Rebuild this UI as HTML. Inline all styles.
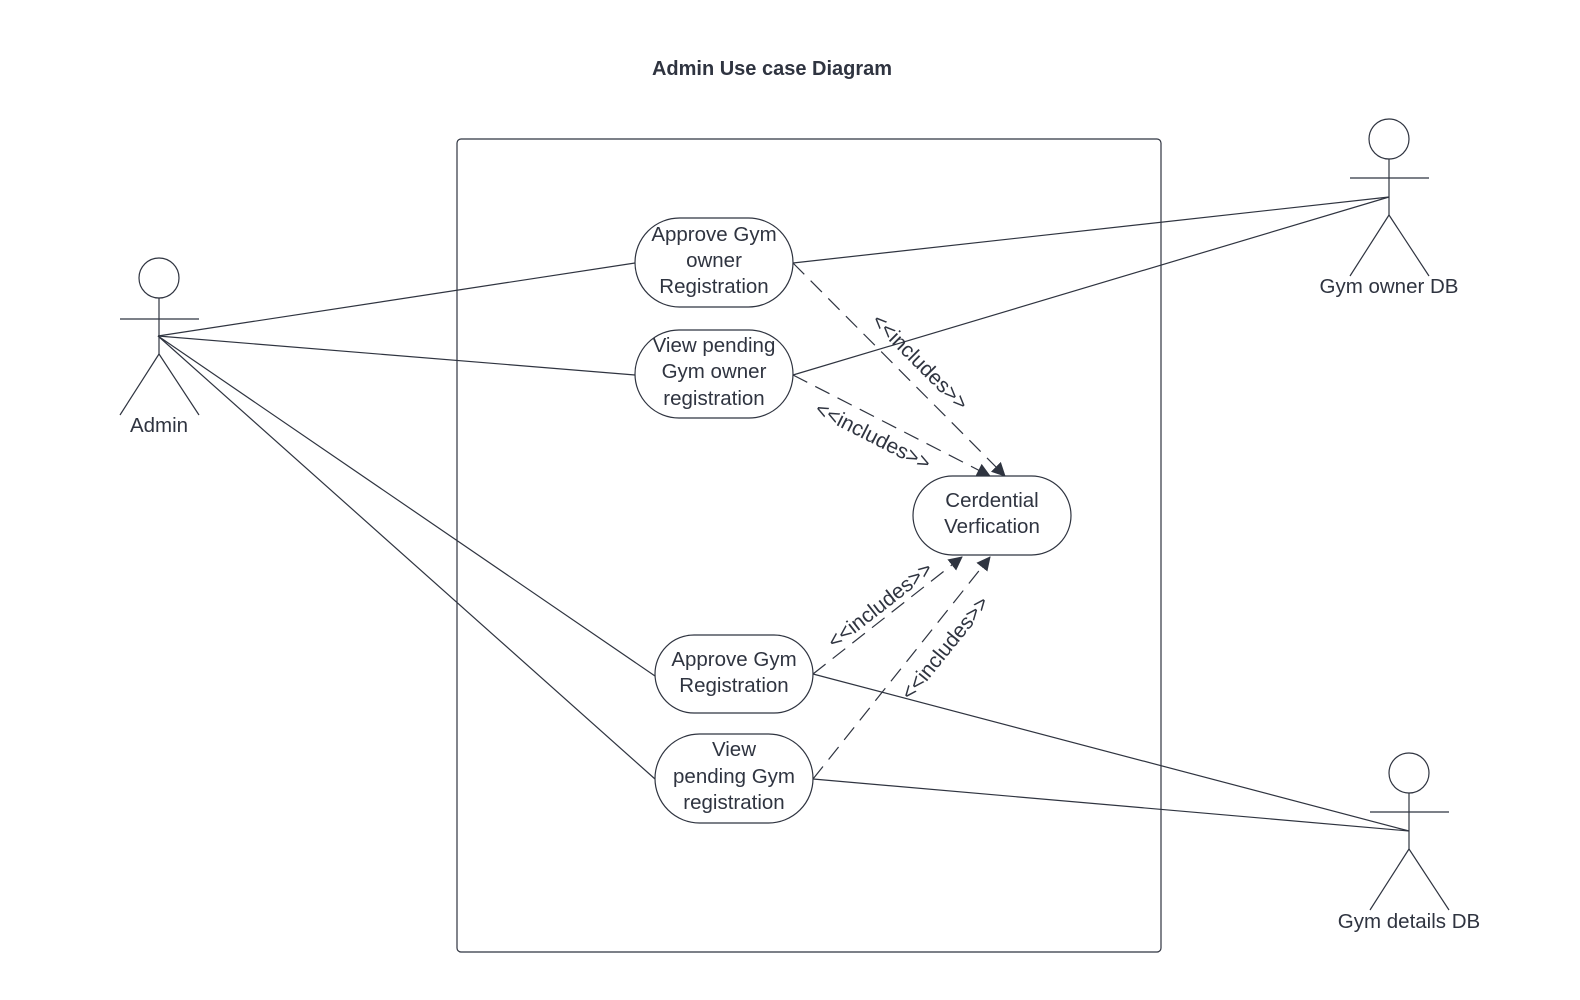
<!DOCTYPE html>
<html><head><meta charset="utf-8"><style>
html,body{margin:0;padding:0;background:#fff;}
svg{display:block;}
text{font-family:"Liberation Sans",sans-serif;fill:#2f3440;}
</style></head><body>
<svg width="1580" height="1000" viewBox="0 0 1580 1000" xmlns="http://www.w3.org/2000/svg">
<defs>
<marker id="ah" markerWidth="14" markerHeight="14" refX="13" refY="7" orient="auto" markerUnits="userSpaceOnUse">
<path d="M0,0 L14,7 L0,14 z" fill="#2f3440"/>
</marker>
</defs>
<text x="772" y="75" text-anchor="middle" font-size="20" font-weight="bold">Admin Use case Diagram</text>
<rect x="457" y="139" width="704" height="813" rx="4" fill="none" stroke="#2f3440" stroke-width="1.2"/>

<g stroke="#2f3440" stroke-width="1.2" fill="none">
<circle cx="159" cy="278" r="20"/>
<line x1="159" y1="298" x2="159" y2="354"/>
<line x1="120" y1="319" x2="199" y2="319"/>
<line x1="159" y1="354" x2="120" y2="415"/>
<line x1="159" y1="354" x2="199" y2="415"/>
<circle cx="1389" cy="139" r="20"/>
<line x1="1389" y1="159" x2="1389" y2="215"/>
<line x1="1350" y1="178" x2="1429" y2="178"/>
<line x1="1389" y1="215" x2="1350" y2="276"/>
<line x1="1389" y1="215" x2="1429" y2="276"/>
<circle cx="1409" cy="773" r="20"/>
<line x1="1409" y1="793" x2="1409" y2="849"/>
<line x1="1370" y1="812" x2="1449" y2="812"/>
<line x1="1409" y1="849" x2="1370" y2="910"/>
<line x1="1409" y1="849" x2="1449" y2="910"/>

<line x1="158" y1="336" x2="635" y2="263"/>
<line x1="158" y1="336" x2="635" y2="375"/>
<line x1="158" y1="336" x2="655" y2="676"/>
<line x1="158" y1="336" x2="655" y2="779"/>
<line x1="1389" y1="197" x2="793" y2="263"/>
<line x1="1389" y1="197" x2="793" y2="375"/>
<line x1="1409" y1="831" x2="813" y2="674"/>
<line x1="1409" y1="831" x2="813" y2="779"/>

<g stroke-dasharray="16,9">
<line x1="793" y1="263" x2="1005" y2="476" marker-end="url(#ah)"/>
<line x1="793" y1="375" x2="990" y2="476" marker-end="url(#ah)"/>
<line x1="813" y1="674" x2="962" y2="557" marker-end="url(#ah)"/>
<line x1="813" y1="779" x2="990" y2="557" marker-end="url(#ah)"/>
</g>
</g>

<g fill="#fff" stroke="#2f3440" stroke-width="1.2">
<rect x="635" y="218" width="158" height="89" rx="44.5"/>
<rect x="635" y="330" width="158" height="88" rx="44"/>
<rect x="913" y="476" width="158" height="79" rx="39.5"/>
<rect x="655" y="635" width="158" height="78" rx="39"/>
<rect x="655" y="734" width="158" height="89" rx="44.5"/>
</g>

<g font-size="20.5" text-anchor="middle">
<text x="159" y="432">Admin</text>
<text x="1389" y="293">Gym owner DB</text>
<text x="1409" y="928">Gym details DB</text>
<text x="714" y="241">Approve Gym</text>
<text x="714" y="267">owner</text>
<text x="714" y="293">Registration</text>
<text x="714" y="352">View pending</text>
<text x="714" y="378">Gym owner</text>
<text x="714" y="405">registration</text>
<text x="992" y="507">Cerdential</text>
<text x="992" y="533">Verfication</text>
<text x="734" y="666">Approve Gym</text>
<text x="734" y="692">Registration</text>
<text x="734" y="756">View</text>
<text x="734" y="783">pending Gym</text>
<text x="734" y="809">registration</text>
</g>
<g font-size="21" text-anchor="middle">
<text transform="translate(920,362) rotate(45)" y="7">&lt;&lt;includes&gt;&gt;</text>
<text transform="translate(873,436) rotate(27)" y="7">&lt;&lt;includes&gt;&gt;</text>
<text transform="translate(880,605) rotate(-38)" y="7">&lt;&lt;includes&gt;&gt;</text>
<text transform="translate(945,648) rotate(-51)" y="7">&lt;&lt;includes&gt;&gt;</text>
</g>
</svg>
</body></html>
